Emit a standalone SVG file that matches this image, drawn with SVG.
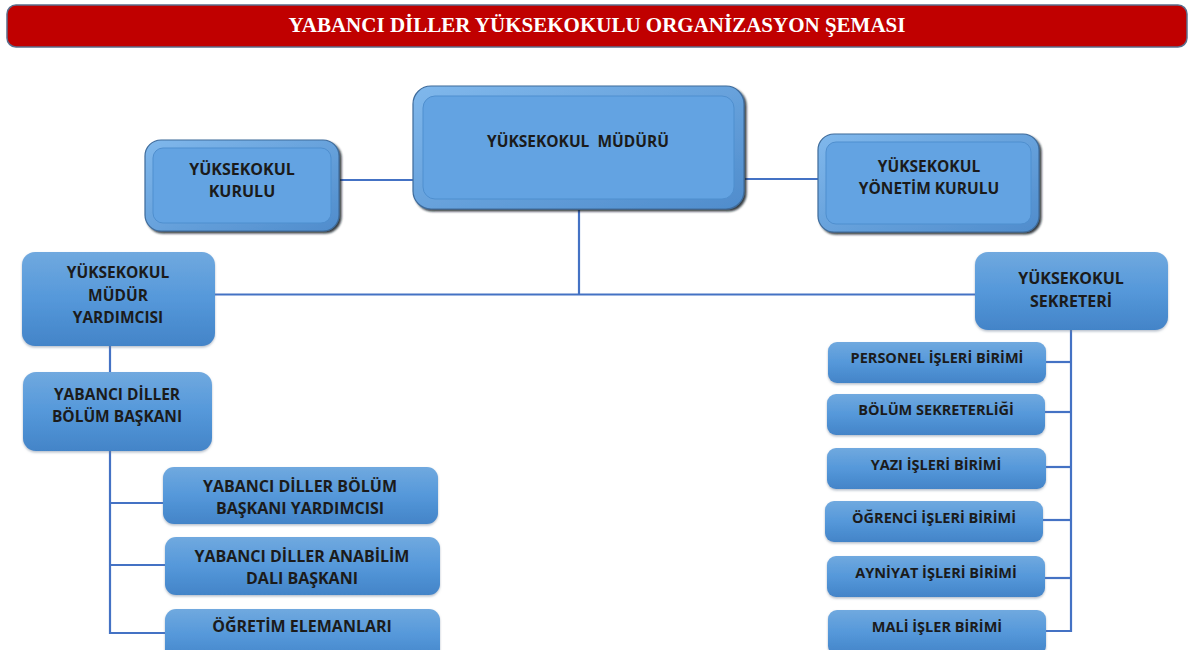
<svg xmlns="http://www.w3.org/2000/svg" width="1203" height="650" viewBox="0 0 1203 650">
<style>
.t{font-family:"Open Sans","Liberation Sans",sans-serif;font-weight:700;fill:#1b1b1b;text-anchor:middle}
.m{font-size:15.5px}
.l{font-size:16px}
.s{font-size:14.5px}
.ln{stroke:#4472c4;stroke-width:2.2;fill:none}
.box{fill:url(#gb);filter:url(#sh)}
.outer{fill:url(#gt);stroke:#3f6c9c;stroke-width:1.2;filter:url(#sh2)}
.inner{fill:#63a3e2;stroke:#4f8fcf;stroke-width:1}
</style>
<defs>
<linearGradient id="gb" x1="0" y1="0" x2="0" y2="1">
<stop offset="0" stop-color="#70a9df"/>
<stop offset="0.5" stop-color="#5598da"/>
<stop offset="1" stop-color="#4384c8"/>
</linearGradient>
<linearGradient id="gt" x1="0" y1="0" x2="1" y2="1">
<stop offset="0" stop-color="#80b8ec"/>
<stop offset="1" stop-color="#4f8ccc"/>
</linearGradient>
<filter id="sh" x="-10%" y="-10%" width="120%" height="130%">
<feDropShadow dx="0" dy="1.5" stdDeviation="1.2" flood-color="#6b7f96" flood-opacity="0.5"/>
</filter>
<filter id="sh2" x="-10%" y="-10%" width="120%" height="130%">
<feDropShadow dx="2" dy="2" stdDeviation="1.3" flood-color="#10181f" flood-opacity="0.85"/>
</filter>
</defs>
<rect width="1203" height="650" fill="#ffffff"/>

<g id="title">
<rect x="7" y="5" width="1180" height="42" rx="9" fill="#c00000" stroke="#5a6e8c" stroke-width="1.5"/>
<text x="597" y="32" font-family="'Liberation Serif',serif" font-weight="700" font-size="21" fill="#ffffff" text-anchor="middle">YABANCI DİLLER YÜKSEKOKULU ORGANİZASYON ŞEMASI</text>
</g>

<g id="connectors">
<line class="ln" x1="340" y1="180" x2="413" y2="180"/>
<line class="ln" x1="745" y1="179" x2="818" y2="179"/>
<line class="ln" x1="579" y1="210" x2="579" y2="294"/>
<line class="ln" x1="215" y1="294.5" x2="975" y2="294.5"/>
<line class="ln" x1="110" y1="346" x2="110" y2="372"/>
<polyline class="ln" points="110,451 110,633 165,633"/>
<line class="ln" x1="110" y1="503" x2="163" y2="503"/>
<line class="ln" x1="110" y1="565" x2="165" y2="565"/>
<polyline class="ln" points="1071,330 1071,631 1046,631"/>
<line class="ln" x1="1046" y1="362" x2="1071" y2="362"/>
<line class="ln" x1="1045" y1="412" x2="1071" y2="412"/>
<line class="ln" x1="1046" y1="467" x2="1071" y2="467"/>
<line class="ln" x1="1043" y1="520" x2="1071" y2="520"/>
<line class="ln" x1="1045" y1="578" x2="1071" y2="578"/>
</g>

<g id="mudur">
<rect class="outer" x="413" y="86" width="331" height="123" rx="18"/>
<rect class="inner" x="423" y="96" width="311" height="103" rx="12"/>
<text class="t m" x="578" y="147" xml:space="preserve" style="white-space:pre">YÜKSEKOKUL  MÜDÜRÜ</text>
</g>

<g id="kurulu">
<rect class="outer" x="145" y="140" width="194" height="91" rx="16"/>
<rect class="inner" x="153" y="148" width="178" height="75" rx="10"/>
<text class="t l" x="242" y="175">YÜKSEKOKUL</text>
<text class="t l" x="242" y="197">KURULU</text>
</g>

<g id="yonetim">
<rect class="outer" x="818" y="134" width="221" height="98" rx="16"/>
<rect class="inner" x="826" y="142" width="205" height="82" rx="10"/>
<text class="t m" x="929" y="172">YÜKSEKOKUL</text>
<text class="t m" x="929" y="194">YÖNETİM KURULU</text>
</g>

<g id="mudur-yardimcisi">
<rect class="box" x="22" y="252" width="193" height="94" rx="13"/>
<text class="t m" x="118" y="278">YÜKSEKOKUL</text>
<text class="t m" x="118" y="301">MÜDÜR</text>
<text class="t m" x="118" y="323">YARDIMCISI</text>
</g>

<g id="bolum-baskani">
<rect class="box" x="23" y="372" width="189" height="79" rx="13"/>
<text class="t m" x="117" y="400">YABANCI DİLLER</text>
<text class="t m" x="117" y="422">BÖLÜM BAŞKANI</text>
</g>

<g id="bolum-baskani-yardimcisi">
<rect class="box" x="163" y="467" width="275" height="57" rx="11"/>
<text class="t l" x="300" y="492">YABANCI DİLLER BÖLÜM</text>
<text class="t l" x="300" y="514">BAŞKANI YARDIMCISI</text>
</g>

<g id="anabilim">
<rect class="box" x="165" y="537" width="275" height="58" rx="11"/>
<text class="t l" x="302" y="562">YABANCI DİLLER ANABİLİM</text>
<text class="t l" x="302" y="584">DALI BAŞKANI</text>
</g>

<g id="ogretim">
<rect class="box" x="165" y="609" width="275" height="52" rx="11"/>
<text class="t l" x="302" y="632">ÖĞRETİM ELEMANLARI</text>
</g>

<g id="sekreter">
<rect class="box" x="975" y="252" width="193" height="78" rx="13"/>
<text class="t l" x="1071" y="284">YÜKSEKOKUL</text>
<text class="t l" x="1071" y="307">SEKRETERİ</text>
</g>

<g id="personel">
<rect class="box" x="828" y="342" width="218" height="41" rx="9"/>
<text class="t s" x="937" y="363">PERSONEL İŞLERİ BİRİMİ</text>
</g>

<g id="bolum-sekreterligi">
<rect class="box" x="827" y="394" width="218" height="41" rx="9"/>
<text class="t s" x="936" y="415">BÖLÜM SEKRETERLİĞİ</text>
</g>

<g id="yazi">
<rect class="box" x="827" y="448" width="219" height="41" rx="9"/>
<text class="t s" x="936" y="470">YAZI İŞLERİ BİRİMİ</text>
</g>

<g id="ogrenci">
<rect class="box" x="825" y="501" width="218" height="41" rx="9"/>
<text class="t s" x="934" y="523">ÖĞRENCİ İŞLERİ BİRİMİ</text>
</g>

<g id="ayniyat">
<rect class="box" x="827" y="556" width="218" height="41" rx="9"/>
<text class="t s" x="936" y="578">AYNİYAT İŞLERİ BİRİMİ</text>
</g>

<g id="mali">
<rect class="box" x="828" y="610" width="218" height="45" rx="9"/>
<text class="t s" x="937" y="632">MALİ İŞLER BİRİMİ</text>
</g>
</svg>
